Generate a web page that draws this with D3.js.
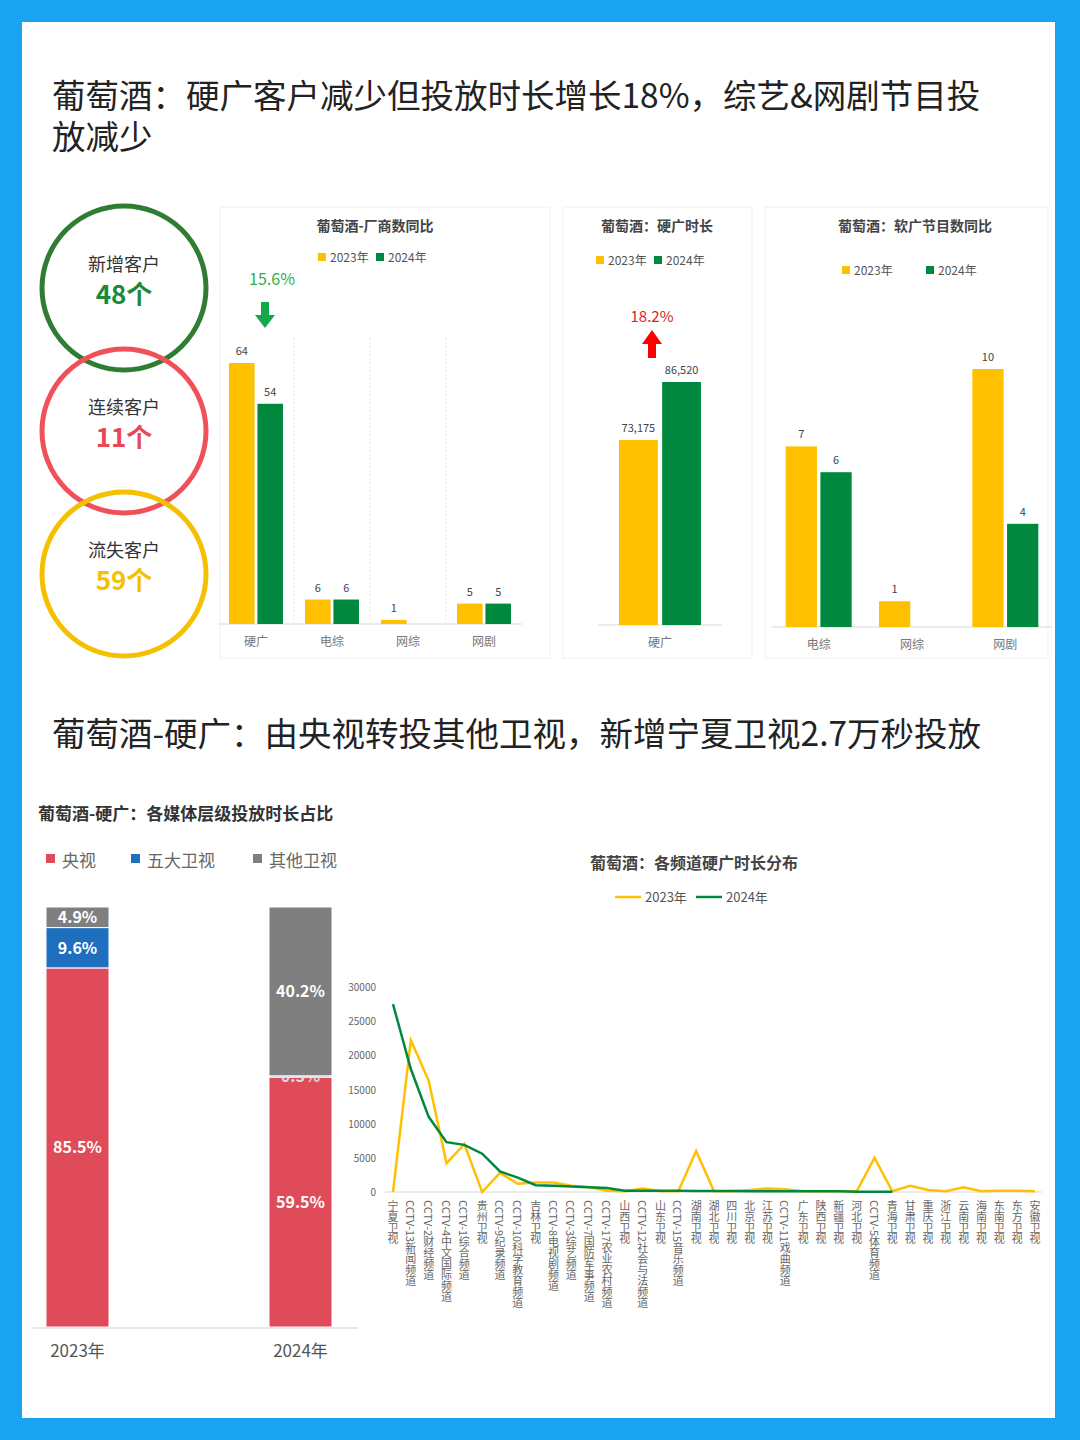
<!DOCTYPE html>
<html><head><meta charset="utf-8">
<script src="https://cdn.jsdelivr.net/npm/d3@7"></script>
<style>
body{margin:0;background:#1aa3f0;}
svg{display:block;font-family:"Noto Sans CJK SC","Noto Sans",sans-serif;}
.xl{writing-mode:vertical-rl;}
</style></head>
<body><div id="chart"></div>
<script>
// data
var years = ["2023年", "2024年"];
var vendorCats = ["硬广", "电综", "网综", "网剧"];
var vendor2023 = [64, 6, 1, 5];
var vendor2024 = [54, 6, null, 5];
var hardCats = ["硬广"];
var hard2023 = [73175];
var hard2024 = [86520];
var softCats = ["电综", "网综", "网剧"];
var soft2023 = [7, 1, 10];
var soft2024 = [6, null, 4];
var circleLabels = ["新增客户", "连续客户", "流失客户"];
var circleValues = ["48个", "11个", "59个"];
var tierNames = ["央视", "五大卫视", "其他卫视"];
var tier2023 = [85.5, 9.6, 4.9];
var tier2024 = [59.5, 0.3, 40.2];
var channels = ["宁夏卫视","CCTV-13新闻频道","CCTV-2财经频道","CCTV-4中文国际频道","CCTV-1综合频道","贵州卫视","CCTV-9纪录频道","CCTV-10科学教育频道","吉林卫视","CCTV-8电视剧频道","CCTV-3综艺频道","CCTV-7国防军事频道","CCTV-17农业农村频道","山西卫视","CCTV-12社会与法频道","山东卫视","CCTV-15音乐频道","湖南卫视","湖北卫视","四川卫视","北京卫视","江苏卫视","CCTV-11戏曲频道","广东卫视","陕西卫视","新疆卫视","河北卫视","CCTV-5体育频道","青海卫视","甘肃卫视","重庆卫视","浙江卫视","云南卫视","海南卫视","东南卫视","东方卫视","安徽卫视"];
var line2023 = [0,22200,16300,4200,7000,0,2800,1200,1400,1400,900,700,200,100,500,100,100,6000,100,100,300,500,400,100,100,100,100,5000,100,900,300,100,700,100,200,200,100];
var line2024 = [27500,18000,11000,7300,6900,5600,3000,2100,1000,900,800,700,600,200,200,200,200,150,150,150,100,100,100,100,100,100,50,50,50,null,null,null,null,null,null,null,null];
var yTicks = [0,5000,10000,15000,20000,25000,30000];

var YEL = "#ffc000", GRN = "#00883e", RED = "#e04b5a", BLUE = "#1f6fbf", GRAY = "#7f7f7f";

var svg = d3.select("#chart").append("svg").attr("width",1080).attr("height",1440);
svg.append("rect").attr("x",22).attr("y",22).attr("width",1033).attr("height",1396).attr("fill","#fff");

svg.append("text").attr("x",52).attr("y",108).attr("font-size",33.5).attr("fill","#222")
  .text("葡萄酒：硬广客户减少但投放时长增长18%，综艺&网剧节目投");
svg.append("text").attr("x",52).attr("y",149).attr("font-size",33.5).attr("fill","#222").text("放减少");
svg.append("text").attr("x",52).attr("y",746).attr("font-size",33.5).attr("fill","#222")
  .text("葡萄酒-硬广：由央视转投其他卫视，新增宁夏卫视2.7万秒投放");

// circles
var circColors = ["#2e7d32", "#f0505a", "#f5c000"];
var valColors = ["#1b8a3a", "#e84855", "#f5c000"];
circleLabels.forEach(function(l, i) {
  var cy = 288 + i * 143;
  svg.append("circle").attr("cx",124).attr("cy",cy).attr("r",82).attr("fill","none")
    .attr("stroke",circColors[i]).attr("stroke-width",5);
  svg.append("text").attr("x",124).attr("y",cy-17).attr("text-anchor","middle").attr("font-size",18).attr("fill","#333").text(l);
  svg.append("text").attr("x",124).attr("y",cy+16).attr("text-anchor","middle").attr("font-size",26).attr("font-weight","bold").attr("fill",valColors[i]).text(circleValues[i]);
});

function panel(x, y, w, h) {
  svg.append("rect").attr("x",x).attr("y",y).attr("width",w).attr("height",h).attr("fill","#fff").attr("stroke","#f0f0f0");
}
function legend(cx, y, gap) {
  [YEL, GRN].forEach(function(c, i) {
    var x = cx - gap + i * gap;
    svg.append("rect").attr("x",x).attr("y",y-9).attr("width",8).attr("height",8).attr("fill",c);
    svg.append("text").attr("x",x+12).attr("y",y).attr("font-size",12).attr("fill","#555").text(years[i]);
  });
}
function groupBars(cats, a, b, x0, x1, base, top, domain, barW, fmt, grid) {
  var x = d3.scaleBand().domain(cats).range([x0, x1]);
  var y = d3.scaleLinear().domain(domain).range([base, top]);
  var inner = d3.scaleBand().domain([0,1]).range([0, 2*barW+6]).paddingInner(0.1);
  if (grid) cats.forEach(function(c, i) {
    if (i > 0) svg.append("line").attr("x1",x(c)).attr("x2",x(c)).attr("y1",top-25).attr("y2",base)
      .attr("stroke","#e6e6e6").attr("stroke-dasharray","2,2");
  });
  svg.append("line").attr("x1",x0).attr("x2",x1).attr("y1",base).attr("y2",base).attr("stroke","#d9d9d9");
  [a, b].forEach(function(vals, k) {
    vals.forEach(function(v, i) {
      if (v == null) return;
      var bx = x(cats[i]) + x.bandwidth()/2 - (2*barW+6)/2 + inner(k);
      svg.append("rect").attr("x",bx).attr("y",y(v)).attr("width",inner.bandwidth()).attr("height",base-y(v))
        .attr("fill",k ? GRN : YEL);
      svg.append("text").attr("x",bx+inner.bandwidth()/2).attr("y",y(v)-8).attr("text-anchor","middle")
        .attr("font-size",11).attr("fill","#444").text(fmt(v));
    });
  });
  cats.forEach(function(c) {
    svg.append("text").attr("x",x(c)+x.bandwidth()/2).attr("y",base+22).attr("text-anchor","middle")
      .attr("font-size",12).attr("fill","#777").text(c);
  });
}

// chart 1
panel(220, 207, 330, 451);
svg.append("text").attr("x",375).attr("y",231).attr("text-anchor","middle").attr("font-size",14).attr("font-weight","bold").attr("fill","#444").text("葡萄酒-厂商数同比");
legend(376, 262, 58);
groupBars(vendorCats, vendor2023, vendor2024, 218, 522, 624, 363, [0, 64], 24, d3.format("d"), true);
svg.append("text").attr("x",272).attr("y",285).attr("text-anchor","middle").attr("font-size",16).attr("fill","#2ab04f").text("15.6%");
svg.append("path").attr("d","M261,302 h8 v13 h6 l-10,13 l-10,-13 h6 z").attr("fill","#13a84a");

// chart 2
panel(563, 207, 189, 451);
svg.append("text").attr("x",657).attr("y",231).attr("text-anchor","middle").attr("font-size",14).attr("font-weight","bold").attr("fill","#444").text("葡萄酒：硬广时长");
legend(654, 265, 58);
groupBars(hardCats, hard2023, hard2024, 598, 722, 625, 382, [30600, 86520], 38, d3.format(","), false);
svg.append("text").attr("x",652).attr("y",322).attr("text-anchor","middle").attr("font-size",15).attr("fill","#e02020").text("18.2%");
svg.append("path").attr("d","M648,358 h8 v-14 h6 l-10,-14 l-10,14 h6 z").attr("fill","#f00");

// chart 3
panel(765, 207, 283, 451);
svg.append("text").attr("x",915).attr("y",231).attr("text-anchor","middle").attr("font-size",14).attr("font-weight","bold").attr("fill","#444").text("葡萄酒：软广节目数同比");
legend(926, 275, 84);
groupBars(softCats, soft2023, soft2024, 772, 1052, 627, 369, [0, 10], 30, d3.format("d"), false);

// stacked bars
svg.append("text").attr("x",38).attr("y",820).attr("font-size",17).attr("font-weight","bold").attr("fill","#333").text("葡萄酒-硬广：各媒体层级投放时长占比");
var tierColors = [RED, BLUE, GRAY];
tierNames.forEach(function(n, i) {
  var lx = [46, 131, 253][i];
  svg.append("rect").attr("x",lx).attr("y",854).attr("width",9).attr("height",9).attr("fill",tierColors[i]);
  svg.append("text").attr("x",lx+16).attr("y",867).attr("font-size",17).attr("fill","#666").text(n);
});
var sx = d3.scalePoint().domain(years).range([77.5, 300.5]);
var barW = 63;
var sy = d3.scaleLinear().domain([0, 100]).range([1327, 907]);
[tier2023, tier2024].forEach(function(vals, k) {
  var acc = 0;
  var bx = sx(years[k]) - barW/2;
  vals.forEach(function(v, i) {
    var y0 = sy(acc), y1 = sy(acc + v);
    svg.append("rect").attr("x",bx).attr("y",y1).attr("width",barW).attr("height",y0-y1)
      .attr("fill",tierColors[i]).attr("stroke","#fff").attr("stroke-width",1);
    svg.append("text").attr("x",bx+barW/2).attr("y",(y0+y1)/2+6).attr("text-anchor","middle")
      .attr("font-size",16).attr("font-weight","bold").attr("fill",i === 1 && v < 1 ? "#ddd" : "#fff").text(v.toFixed(1) + "%");
    acc += v;
  });
  svg.append("text").attr("x",bx+barW/2).attr("y",1357).attr("text-anchor","middle").attr("font-size",17).attr("fill","#555").text(years[k]);
});
svg.append("line").attr("x1",33).attr("x2",358).attr("y1",1328).attr("y2",1328).attr("stroke","#d0d0d0");

// line chart
svg.append("text").attr("x",694).attr("y",869).attr("text-anchor","middle").attr("font-size",16).attr("font-weight","bold").attr("fill","#444").text("葡萄酒：各频道硬广时长分布");
[YEL, GRN].forEach(function(c, i) {
  var lx = 615 + i * 81;
  svg.append("line").attr("x1",lx).attr("x2",lx+26).attr("y1",897).attr("y2",897).attr("stroke",c).attr("stroke-width",2.5);
  svg.append("text").attr("x",lx+30).attr("y",902).attr("font-size",13).attr("fill","#555").text(years[i]);
});
var lx = d3.scalePoint().domain(channels).range([393, 1035]);
var ly = d3.scaleLinear().domain([0, 30000]).range([1192, 987]);
svg.append("line").attr("x1",385).attr("x2",1042).attr("y1",1192).attr("y2",1192).attr("stroke","#d9d9d9");
yTicks.forEach(function(t) {
  svg.append("text").attr("x",376).attr("y",ly(t)+4).attr("text-anchor","end").attr("font-size",10).attr("fill","#666").text(t);
});
var line = d3.line().defined(function(d) { return d != null; })
  .x(function(d, i) { return lx(channels[i]); }).y(function(d) { return ly(d); });
svg.append("path").datum(line2023).attr("d",line).attr("fill","none").attr("stroke",YEL).attr("stroke-width",2.5);
svg.append("path").datum(line2024).attr("d",line).attr("fill","none").attr("stroke",GRN).attr("stroke-width",2.5);
channels.forEach(function(c) {
  svg.append("text").attr("class","xl").attr("x",lx(c)).attr("y",1200).attr("font-size",11).attr("fill","#666").text(c);
});
</script></body></html>
